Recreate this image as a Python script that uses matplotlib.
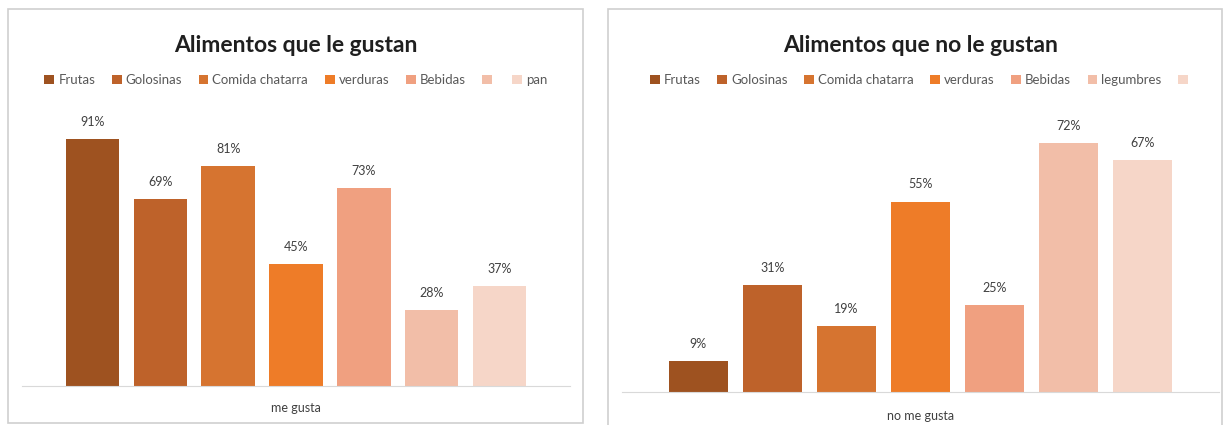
import matplotlib.pyplot as plt
from matplotlib.patches import Rectangle, Patch

plt.rcParams['font.family'] = ['Lato', 'DejaVu Sans']

# data
gusta_labels = ['Frutas', 'Golosinas', 'Comida chatarra', 'verduras', 'Bebidas', '', 'pan']
gusta_vals = [91, 69, 81, 45, 73, 28, 37]

no_gusta_labels = ['Frutas', 'Golosinas', 'Comida chatarra', 'verduras', 'Bebidas', 'legumbres', '']
no_gusta_vals = [9, 31, 19, 55, 25, 72, 67]

colors = ['#9E5220', '#BE622A', '#D67430', '#EE7C28', '#F0A080', '#F2BEA8', '#F6D6C8']

W, H = 1225, 425
fig = plt.figure(figsize=(W / 100, H / 100), dpi=100)


def panel(x0, y0, x1, y1):
    # light frame around each chart (pixel coords, y from top)
    fig.patches.append(Rectangle((x0 / W, 1 - y1 / H), (x1 - x0) / W, (y1 - y0) / H,
                                 transform=fig.transFigure, fill=False,
                                 edgecolor='#CFCFCF', linewidth=1.2))


def chart(rect, vals, labels, ymax, title, cat, width, xpad, cx, baseline_label_y):
    ax = fig.add_axes(rect)
    x = range(len(vals))
    bars = ax.bar(x, vals, width=width, color=colors)
    for b, v in zip(bars, vals):
        ax.annotate(f'{v}%', (b.get_x() + b.get_width() / 2, v),
                    xytext=(0, 8), textcoords='offset points',
                    ha='center', va='bottom', fontsize=9, color='#404040')
    ax.set_ylim(0, ymax)
    ax.set_xlim(-xpad, len(vals) - 1 + xpad)
    for s in ['top', 'left', 'right']:
        ax.spines[s].set_visible(False)
    ax.spines['bottom'].set_color('#D9D9D9')
    ax.set_yticks([])
    ax.set_xticks([])
    fig.text(cx / W, 1 - baseline_label_y / H, cat, ha='center', va='center',
             fontsize=9, color='#404040')
    fig.text(cx / W, 1 - 45 / H, title, ha='center', va='center',
             fontsize=16.5, fontweight='bold', color='#1F1F1F')
    handles = [Patch(facecolor=c) for c in colors]
    fig.legend(handles, labels, loc='center', ncol=7,
               bbox_to_anchor=(cx / W, 1 - 80 / H), frameon=False,
               fontsize=9.5, handlelength=0.75, handleheight=0.75,
               handletextpad=0.3, columnspacing=1.25, labelcolor='#595959')
    return ax


panel(8, 9, 583, 423)
panel(608, 9, 1222, 430)

chart([22 / W, 1 - 386 / H, 548 / W, 271 / H], gusta_vals, gusta_labels, 100,
      'Alimentos que le gustan', 'me gusta', 0.79, 1.04, 296, 408)
chart([622 / W, 1 - 392 / H, 597 / W, 277 / H], no_gusta_vals, no_gusta_labels, 80,
      'Alimentos que no le gustan', 'no me gusta', 0.8, 1.03, 921, 416)

fig.savefig('out.png', dpi=100)
